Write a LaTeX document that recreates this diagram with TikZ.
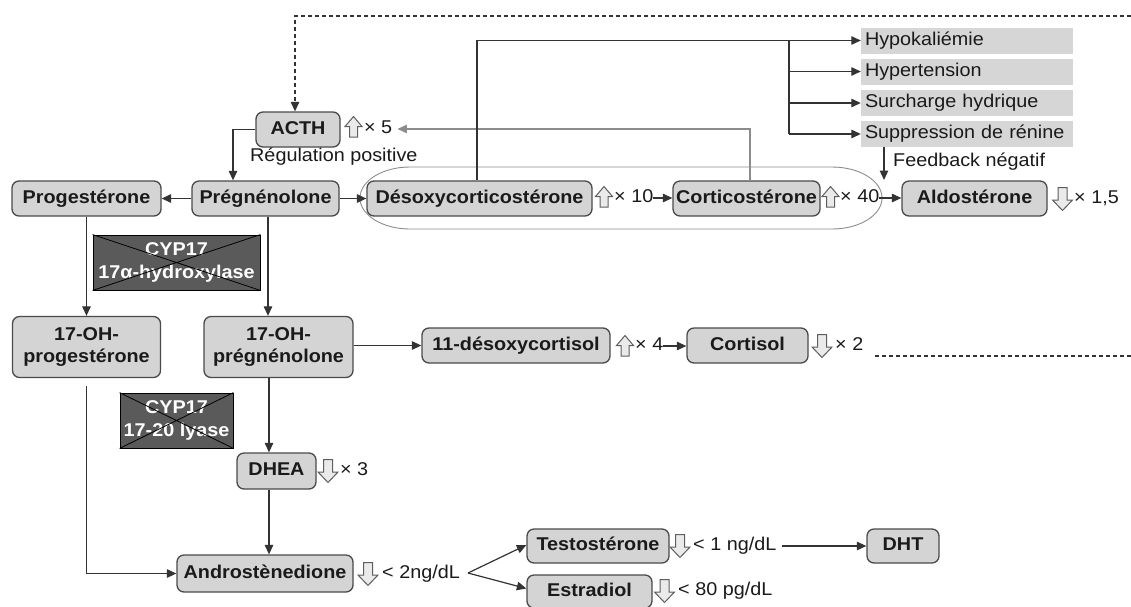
\documentclass[tikz,border=0pt]{standalone}
\usepackage{fontspec}
\setmainfont{Liberation Sans}[FakeStretch=1.07]
\usetikzlibrary{arrows.meta}
\definecolor{boxfill}{HTML}{D4D4D4}
\definecolor{graybox}{HTML}{D6D6D6}
\definecolor{bord}{HTML}{4A4A4A}
\definecolor{ln}{HTML}{333333}
\definecolor{txt}{HTML}{1A1A1A}
\definecolor{cypfill}{HTML}{5A5A5A}
\definecolor{ag}{HTML}{5E5E5E}
\definecolor{af}{HTML}{EAEAEA}
\definecolor{lg}{HTML}{8C8C8C}
\tikzset{
  boxbase/.style={draw=bord, fill=boxfill, rounded corners=7pt, line width=1.3pt, inner sep=0pt,
    font=\fontsize{18.5}{22}\selectfont\bfseries, align=center},
  hb/.style={boxbase, minimum height=35pt, text height=13.5pt, text depth=4pt},
  hbm/.style={boxbase, minimum height=61pt},
  gb/.style={fill=graybox, minimum width=212pt, minimum height=26pt, inner sep=0pt,
    text width=204pt, align=left, text height=13.5pt, text depth=4pt},
  cyp/.style={draw=black, fill=cypfill, line width=0.8pt, inner sep=0pt, text=white,
    font=\fontsize{18.5}{23}\selectfont\bfseries, align=center},
  lab/.style={anchor=west, inner sep=0pt, text height=13pt, text depth=4pt},
  arr/.style={draw=ln, line width=1.2pt, -{Triangle[length=9.5pt,width=8.5pt]}},
  garr/.style={draw=lg, line width=1.2pt, -{Triangle[length=9.5pt,width=8.5pt]}},
  plain/.style={draw=ln, line width=1.2pt},
  dline/.style={draw=ln, line width=1.1pt, dash pattern=on 4pt off 3pt},
  upa/.pic={\draw[draw=ag, fill=af, line width=1pt]
     (0,-10.5) -- (8.5,-0.5) -- (4,-0.5) -- (4,10) -- (-4,10) -- (-4,-0.5) -- (-8.5,-0.5) -- cycle;},
  dna/.pic={\draw[draw=ag, fill=af, line width=1pt]
     (0,11.5) -- (10,1) -- (4.5,1) -- (4.5,-11.5) -- (-4.5,-11.5) -- (-4.5,1) -- (-10,1) -- cycle;},
}
\begin{document}
\begin{tikzpicture}[x=1pt, y=-1pt, every node/.append style={font=\fontsize{18.5}{22}\selectfont, text=txt}]
\useasboundingbox (0,0) rectangle (1131,606);

% grouping frame
\draw[draw=lg, line width=0.9pt] (410,167) -- (832,167)
  arc[start angle=-90, end angle=90, x radius=50, y radius=31]
  -- (410,229) arc[start angle=90, end angle=270, x radius=50, y radius=31] -- cycle;

% main boxes
\node[hb, minimum width=84pt] (acth) at (298,129.5) {ACTH};
\node[hb, minimum width=149pt] (prog) at (86.5,198.5) {Progestérone};
\node[hb, minimum width=147pt] (preg) at (265.5,198.5) {Prégnénolone};
\node[hb, minimum width=225pt] (deso) at (479.5,198.5) {Désoxycorticostérone};
\node[hb, minimum width=147pt] (cort) at (746.5,198.5) {Corticostérone};
\node[hb, minimum width=145pt] (aldo) at (974.5,198.5) {Aldostérone};
\node[hbm, minimum width=148pt] (ohprog) at (86.5,347) {17-OH-\\progestérone};
\node[hbm, minimum width=149pt] (ohpreg) at (278.5,347) {17-OH-\\prégnénolone};
\node[hb, minimum width=188pt] (dcort) at (516,345.5) {11-désoxycortisol};
\node[hb, minimum width=121pt] (cortisol) at (747.5,345.5) {Cortisol};
\node[hb, minimum width=79pt, minimum height=36pt] (dhea) at (276.5,471) {DHEA};
\node[hb, minimum width=176pt, minimum height=37pt] (andro) at (265,573.5) {Androstènedione};
\node[hb, minimum width=142pt, minimum height=34pt] (testo) at (598,546) {Testostérone};
\node[hb, minimum width=125pt, minimum height=33pt] (estr) at (589.5,591.5) {Estradiol};
\node[hb, minimum width=72pt, minimum height=34pt] (dht) at (903,546) {DHT};

% effect boxes
\node[gb] (hypo) at (967,40.5) {Hypokaliémie};
\node[gb] (hyper) at (967,71.5) {Hypertension};
\node[gb] (surch) at (967,103) {Surcharge hydrique};
\node[gb] (supp) at (967,134) {Suppression de rénine};

% blocked enzymes
\node[cyp, minimum width=167pt, minimum height=55pt] (cyp1) at (176.5,262.5) {CYP17\\17α-hydroxylase};
\draw[black, line width=0.8pt] (cyp1.north west) -- (cyp1.south east) (cyp1.south west) -- (cyp1.north east);
\node[cyp, minimum width=113pt, minimum height=55pt] (cyp2) at (176.5,420.5) {CYP17\\17-20 lyase};
\draw[black, line width=0.8pt] (cyp2.north west) -- (cyp2.south east) (cyp2.south west) -- (cyp2.north east);

% labels
\pic at (353.5,127) {upa};
\node[lab] (t5) at (364,129) {× 5};
\node[lab] (reg) at (250,157) {Régulation positive};
\pic at (604,197) {upa};
\node[lab] (t10) at (614,198) {× 10};
\pic at (830.5,197) {upa};
\node[lab] (t40) at (840,198) {× 40};
\pic at (1062.5,199) {dna};
\node[lab] (t15) at (1074,199) {× 1,5};
\node[lab] (fbt) at (893,162) {Feedback négatif};
\pic at (625,346) {upa};
\node[lab] (t4) at (635,346) {× 4};
\pic at (822,346) {dna};
\node[lab] (t2) at (835,346) {× 2};
\pic at (328,471) {dna};
\node[lab] (t3) at (340,471) {× 3};
\pic at (368,574) {dna};
\node[lab] (ta) at (382,574) {< 2ng/dL};
\pic at (680,546) {dna};
\node[lab] (tt) at (693,546) {< 1 ng/dL};
\pic at (664.5,591) {dna};
\node[lab] (te) at (678,591) {< 80 pg/dL};

% coordinates
\coordinate (dtop) at (1131,16);
\coordinate (bx) at (789,40.5);
\coordinate (fb) at (884,180);
\coordinate (dc1) at (875,356);
\coordinate (dc2) at (1131,356);
\coordinate (br) at (468,573);

% connectors
\draw[dline, -{Triangle[length=9.5pt,width=8.5pt]}] (dtop) -| ([xshift=-3]acth.north);
\draw[arr] (acth.west) -| ([xshift=-32.5]preg.north);
\draw[arr] (preg.west) -- (prog.east);
\draw[arr] (preg.east) -- (deso.west);
\draw[arr] (t10.east) -- (t10.east -| cort.west);
\draw[arr] (t40.east) -- (t40.east -| aldo.west);
\draw[garr] ([xshift=3.5]cort.north) |- ([xshift=5]t5.east);
\draw[arr] ([xshift=-2.5]deso.north) |- (hypo.west);
\draw[plain] (bx) -- (bx |- supp.west);
\draw[arr] (bx |- hyper.west) -- (hyper.west);
\draw[arr] (bx |- surch.west) -- (surch.west);
\draw[arr] (bx |- supp.west) -- (supp.west);
\draw[arr] (supp.south -| fb) -- (fb);
\draw[arr] (prog.south) -- (ohprog.north);
\draw[arr] ([xshift=2.5]preg.south) -- ([xshift=2.5]preg.south |- ohpreg.north);
\draw[arr] (ohpreg.east |- dcort.west) -- (dcort.west);
\draw[arr] (t4.east) -- (t4.east -| cortisol.west);
\draw[dline] (dc1) -- (dc2);
\draw[arr] ([xshift=-9.5]ohpreg.south) -- ([xshift=-9.5]ohpreg.south |- dhea.north);
\draw[arr] ([xshift=-7.5]dhea.south) -- ([xshift=-7.5]dhea.south |- andro.north);
\draw[arr, shorten <=8pt] (ohprog.south) |- (andro.west);
\draw[arr] (br) -- ([yshift=1]testo.west);
\draw[arr] (br) -- ([yshift=3]estr.west);
\draw[arr] ([xshift=5]tt.east) -- (dht.west);
\end{tikzpicture}
\end{document}
